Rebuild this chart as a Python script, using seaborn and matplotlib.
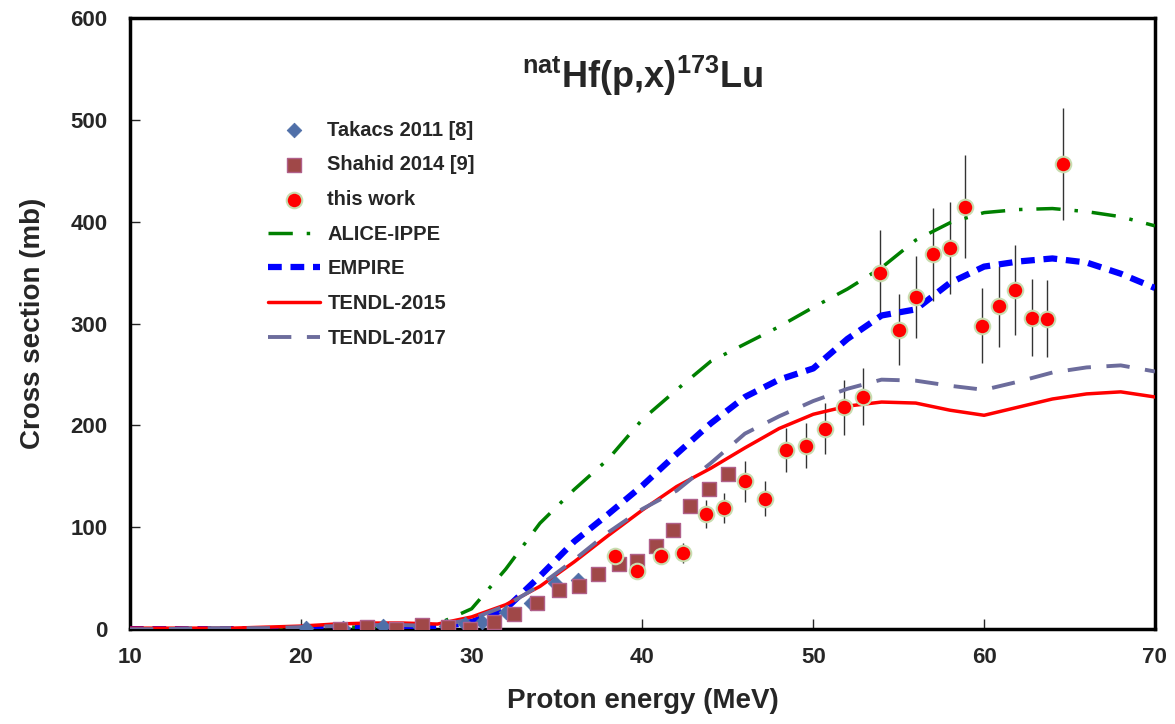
import matplotlib
matplotlib.use("Agg")
import matplotlib.pyplot as plt
import seaborn as sns
import pandas as pd

# model calculations on a common energy grid (MeV, mb)
energy_grid = [10, 12, 14, 16, 18, 20, 22, 24, 26, 28, 30, 32, 34, 36, 38, 40,
               42, 44, 46, 48, 50, 52, 54, 56, 58, 60, 62, 64, 66, 68, 70]
alice_ippe = [0, 0, 0, 0, 0, 1, 2, 2, 3, 5, 20, 59, 104, 137, 167, 206,
              235, 263, 280, 297, 316, 334, 355, 382, 399, 409, 412, 413, 410, 405, 396]
empire = [0, 0, 0, 0, 0, 0, 1, 1, 1, 2, 7, 20, 52, 86, 113, 141,
          172, 202, 228, 245, 256, 285, 308, 314, 340, 356, 361, 364, 360, 349, 335]
tendl_2015 = [1, 1, 1, 1, 2, 3, 5, 6, 6, 5, 12, 24, 42, 66, 92, 117,
              140, 158, 178, 197, 211, 219, 223, 222, 215, 210, 218, 226, 231, 233, 228]
tendl_2017 = [0, 0, 1, 1, 1, 2, 3, 4, 4, 3, 10, 23, 43, 68, 95, 118,
              136, 163, 192, 209, 224, 236, 245, 244, 239, 235, 243, 252, 257, 259, 253]

# experimental data
takacs_e = [20.3, 22.5, 24.8, 27.0, 28.5, 29.6, 30.6, 32.0, 33.5, 34.9, 36.2]
takacs_xs = [1, 1.5, 3, 2.5, 3, 5, 7, 17, 26, 45, 48]

shahid_e = [22.3, 23.9, 25.6, 27.1, 28.6, 29.9, 31.3, 32.5, 33.8, 35.1, 36.3,
            37.4, 38.6, 39.7, 40.8, 41.8, 42.8, 43.9, 45.0]
shahid_xs = [0.5, 2, 0.5, 4, 2, 0.5, 7, 15, 26, 38, 42,
             54, 64, 67, 82, 97, 121, 138, 152]

work_e = [38.4, 39.7, 41.1, 42.4, 43.7, 44.8, 46.0, 47.2, 48.4, 49.6, 50.7, 51.8, 52.9,
          53.9, 55.0, 56.0, 57.0, 58.0, 58.9, 59.9, 60.9, 61.8, 62.8, 63.7, 64.6]
work_xs = [72, 57, 72, 75, 113, 119, 145, 128, 176, 180, 197, 218, 228,
           350, 294, 326, 368, 374, 415, 298, 317, 333, 306, 305, 457]
work_err = [8, 6, 8, 10, 14, 15, 20, 17, 22, 22, 25, 27, 28,
            42, 35, 40, 46, 45, 51, 37, 40, 44, 38, 38, 55]

sns.set_style("ticks")
plt.rcParams["font.family"] = ["Liberation Sans", "DejaVu Sans"]
plt.rcParams["font.weight"] = "bold"
plt.rcParams["mathtext.fontset"] = "custom"
plt.rcParams["mathtext.rm"] = "Liberation Sans:bold"
plt.rcParams["mathtext.it"] = "Liberation Sans:bold"
plt.rcParams["mathtext.bf"] = "Liberation Sans:bold"

models = pd.DataFrame({"E": energy_grid, "ALICE-IPPE": alice_ippe, "EMPIRE": empire,
                       "TENDL-2015": tendl_2015, "TENDL-2017": tendl_2017})

fig = plt.figure(figsize=(11.75, 7.24), dpi=100)
ax = fig.add_axes([0.1106, 0.131, 0.8723, 0.844])

# error bars first so markers sit on top
ax.errorbar(work_e, work_xs, yerr=work_err, fmt="none", ecolor="#333333",
            elinewidth=1.0, capsize=0, zorder=2)

sns.scatterplot(x=takacs_e, y=takacs_xs, marker="D", s=55, color="#4f6fa8",
                edgecolor="#4f6fa8", label="Takacs 2011 [8]", ax=ax, zorder=4)
sns.scatterplot(x=shahid_e, y=shahid_xs, marker="s", s=115, color="#a04848",
                edgecolor="#b0608a", linewidth=1, label="Shahid 2014 [9]", ax=ax, zorder=4)
sns.scatterplot(x=work_e, y=work_xs, marker="o", s=125, color="#ff0000",
                edgecolor="#c8ddb0", linewidth=1.5, label="this work", ax=ax, zorder=5)

styles = {
    "ALICE-IPPE": dict(color="#008000", lw=2.5, dashes=(7, 4, 1, 4)),
    "EMPIRE": dict(color="#0000ff", lw=4.5, dashes=(2.2, 1.4)),
    "TENDL-2015": dict(color="#ff0000", lw=2.5, dashes=None),
    "TENDL-2017": dict(color="#6c6c9c", lw=2.8, dashes=(6, 4)),
}
for name, st in styles.items():
    line = sns.lineplot(data=models, x="E", y=name, color=st["color"], lw=st["lw"],
                        label=name, ax=ax, zorder=3).lines[-1]
    if st["dashes"]:
        line.set_dashes(st["dashes"])

ax.set_xlim(10, 70)
ax.set_ylim(0, 600)
ax.set_xticks(range(10, 71, 10))
ax.set_yticks(range(0, 601, 100))
ax.tick_params(direction="in", length=7, width=1, labelsize=16,
               top=False, right=False)
ax.tick_params(axis="x", pad=13)
ax.tick_params(axis="y", pad=16)
for lab in ax.get_xticklabels() + ax.get_yticklabels():
    lab.set_fontweight("bold")
for sp in ax.spines.values():
    sp.set_visible(True)
    sp.set_linewidth(2.5)
    sp.set_color("black")

ax.set_xlabel("Proton energy (MeV)", fontsize=20, fontweight="bold", labelpad=14)
ax.set_ylabel("Cross section (mb)", fontsize=20, fontweight="bold", labelpad=18)

ax.text(0.5, 0.905, r"$^{\mathbf{nat}}$Hf(p,x)$^{\mathbf{173}}$Lu", transform=ax.transAxes,
        ha="center", va="center", fontsize=26, fontweight="bold")

ax.legend(loc="upper left", bbox_to_anchor=(0.117, 0.862), frameon=False,
          handlelength=2.6, labelspacing=0.78, handletextpad=0.35,
          prop={"weight": "bold", "size": 14.5})

fig.savefig("out.png", dpi=100)
plt.close(fig)
